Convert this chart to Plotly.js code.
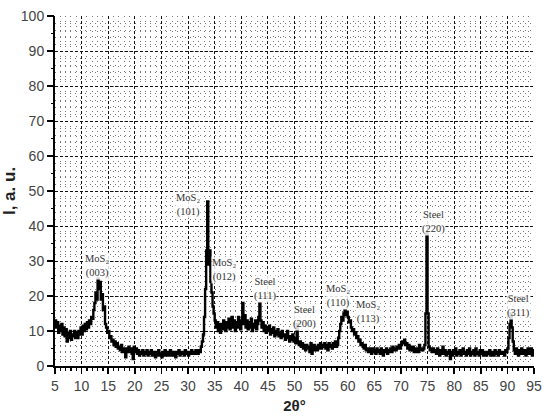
<!DOCTYPE html>
<html>
<head>
<meta charset="utf-8">
<script src="https://cdn.plot.ly/plotly-3.0.1.min.js"></script>
<style>html,body{margin:0;padding:0;background:#fff}#chart{width:550px;height:416px}</style>
</head>
<body>
<div id="chart"></div>
<script>
// XRD pattern, sampled every 0.2 degrees from 5 to 95 (one row per degree)
const startAngle = 5;
const angleStep = 0.2;
const intensity = [
  13, 11, 12.5, 9.5, 11.5,
  10, 12, 9, 11, 8.5,
  10.5, 7, 9.5, 8, 10,
  7.5, 9, 8.5, 10, 8,
  9.5, 8, 10, 9, 11,
  9, 11.5, 10, 12, 10.5,
  12.5, 11, 13, 12, 14,
  13.5, 16, 18, 21, 19,
  25, 22, 24, 19, 20.5,
  16, 17, 12, 11, 9.5,
  10, 8, 8.5, 7, 7.5,
  6, 7, 5.5, 6.5, 5,
  5.5, 4.5, 6, 4, 5,
  4.5, 2.5, 5, 4, 5.5,
  4, 5, 3.5, 2, 5.5,
  4, 5, 3.5, 4.5, 3,
  4, 3.5, 4.5, 3, 4,
  3.5, 4.5, 3, 4, 3.5,
  4.5, 3, 4, 3.5, 2.5,
  4, 3, 4.5, 3, 3.5,
  2.5, 4, 3, 4.5, 3,
  3.5, 4, 3, 4.5, 3.5,
  3, 4, 3.5, 2.5, 4,
  3.5, 4.5, 3, 4, 3.5,
  4, 3, 4.5, 3.5, 4,
  3, 4, 3.5, 4.5, 3.5,
  4, 3.5, 4.5, 4, 3.5,
  4.5, 4, 5.5, 7, 9,
  14, 22, 33, 47, 29,
  33, 24, 21, 17, 15,
  13, 11, 12.5, 10, 12,
  9.5, 12, 10.5, 13, 11,
  10, 12.5, 11, 13.5, 10.5,
  12, 14, 11, 13, 10,
  12.5, 11, 14, 12, 10.5,
  13, 18, 12, 14.5, 11,
  13, 10.5, 12.5, 11, 13.5,
  10, 12, 11, 13, 10.5,
  12, 14, 18, 13, 11,
  12.5, 10, 11.5, 9.5, 11,
  10, 11.5, 9, 10.5, 9.5,
  11, 8.5, 10, 9, 10.5,
  8.5, 9.5, 8, 10, 8.5,
  9, 7.5, 8.5, 10, 8,
  7, 8.5, 7.5, 9, 7,
  8, 6.5, 12, 7, 6,
  7, 5.5, 6.5, 5, 6,
  4.5, 6, 5, 5.5, 4,
  6.5, 3.5, 5, 6, 4.5,
  5.5, 4.5, 6, 5, 6.5,
  5, 6, 5.5, 6.5, 5,
  6, 4.5, 6.5, 5.5, 6,
  5, 6.5, 5.5, 7, 5.5,
  6, 8, 10, 12, 14,
  13, 15, 16, 14.5, 15.5,
  14, 12.5, 13, 11, 10,
  10.5, 9, 9.5, 8, 8.5,
  7, 7.5, 6, 6.5, 5.5,
  5, 6, 4.5, 5, 4,
  5, 4.5, 3.5, 5, 4,
  4.5, 3.5, 5, 4, 4.5,
  3.5, 5, 4, 3, 4.5,
  4, 5, 3.5, 4.5, 4,
  5, 4, 5.5, 4.5, 5,
  4.5, 5.5, 5, 6, 5,
  6, 7, 6.5, 7.5, 6,
  6.5, 5, 6, 4.5, 5.5,
  4.5, 5.5, 4, 5, 4,
  5, 4, 6, 4.5, 5,
  4.5, 5, 6, 15, 38,
  15, 5.5, 4.5, 5, 4,
  5, 4, 4.5, 3.5, 5,
  4, 3, 4.5, 3.5, 5.5,
  3.5, 4.5, 3, 4, 3.5,
  4.5, 2, 4, 3, 4.5,
  3.5, 5, 3, 4, 3.5,
  4.5, 3, 4, 5, 3.5,
  4, 3, 4.5, 3.5, 5,
  3, 4, 3.5, 4.5, 3,
  5, 3.5, 4, 3, 4.5,
  3.5, 4.5, 3, 4, 3.5,
  3, 4, 3.5, 4.5, 3,
  4, 3.5, 3, 4.5, 3.5,
  4, 3, 4.5, 3.5, 4,
  3.5, 4, 3, 4.5, 4,
  5, 8, 12, 15, 11,
  7, 4.5, 3.5, 5, 4,
  3, 4.5, 3.5, 5, 4,
  3.5, 4.5, 3, 4, 5,
  3.5, 4, 5, 3, 4.5,
  4
];
const twoTheta = intensity.map((_, i) => +(startAngle + i * angleStep).toFixed(2));

// Peak labels
const labelText = [
  "MoS₂<br>(003)", "MoS₂<br>(101)", "MoS₂<br>(012)",
  "Steel<br>(111)", "Steel<br>(200)", "MoS₂<br>(110)",
  "MoS₂<br>(113)", "Steel<br>(220)", "Steel<br>(311)"
];
const labelX = [12.9, 30.0, 36.8, 44.5, 51.8, 58.2, 63.8, 76.2, 92.0];
const labelY = [28.6, 46.0, 27.4, 22.0, 13.9, 20.0, 15.4, 41.2, 17.2];

const xTitle = "2θ°";
const yTitle = "I, a. u.";

const traces = [
  { // carrier for the overlay axes (y ticks at every 5)
    x: [], y: [], xaxis: "x2", yaxis: "y2", type: "scatter", mode: "lines", showlegend: false
  },
  {
    x: twoTheta, y: intensity, type: "scatter", mode: "lines",
    line: {color: "#000", width: 2.4, shape: "hv"},
    hoverinfo: "skip", showlegend: false, cliponaxis: false
  }
];

const annotations = labelText.map((t, i) => ({
  x: labelX[i], y: labelY[i], xref: "x", yref: "y", text: t, showarrow: false,
  xanchor: "center", yanchor: "middle", align: "center",
  bgcolor: "rgba(255,255,255,0.85)", borderpad: 0,
  font: {family: "Liberation Serif, Times New Roman, serif", size: 10.5, color: "#333"}
}));

const layout = {
  width: 550, height: 416,
  margin: {l: 55, r: 16, t: 16, b: 50, pad: 0},
  paper_bgcolor: "#fff", plot_bgcolor: "#fff",
  font: {family: "Liberation Sans, Arial, sans-serif", color: "#333"},
  xaxis: {
    range: [5, 95], dtick: 5, tick0: 5, autorange: false,
    showline: true, linecolor: "#000", linewidth: 2,
    ticks: "outside", ticklen: 6, tickwidth: 1.5, tickcolor: "#000",
    tickfont: {size: 14, color: "#444"},
    showgrid: true, gridcolor: "#111", gridwidth: 1, griddash: "3px,2px",
    zeroline: false,
    minor: {dtick: 1, tick0: 5, ticks: "outside", ticklen: 3, tickwidth: 1.2, tickcolor: "#000",
            showgrid: true, gridcolor: "#777", gridwidth: 1, griddash: "1px,4px"},
    title: {text: xTitle, font: {size: 15, color: "#222", weight: "bold"}, standoff: 8}
  },
  yaxis: {
    range: [0, 100], dtick: 10, autorange: false,
    showline: true, linecolor: "#000", linewidth: 2,
    ticks: "outside", ticklen: 6, tickwidth: 1.5, tickcolor: "#000",
    tickfont: {size: 14, color: "#444"},
    showgrid: true, gridcolor: "#111", gridwidth: 1, griddash: "3px,2px",
    zeroline: false,
    minor: {dtick: 2, ticks: "", ticklen: 0,
            showgrid: true, gridcolor: "#777", gridwidth: 1, griddash: "1px,4px"},
    title: {text: yTitle, font: {size: 17, color: "#222", weight: "bold"}, standoff: 10}
  },
  xaxis2: {
    overlaying: "x", range: [5, 95], autorange: false, showgrid: false, showline: false,
    showticklabels: false, ticks: "", zeroline: false, anchor: "y2"
  },
  yaxis2: {
    overlaying: "y", range: [0, 100], autorange: false, dtick: 5, side: "left", anchor: "x2",
    showgrid: false, showline: false, showticklabels: false, zeroline: false,
    ticks: "outside", ticklen: 3, tickwidth: 1.2, tickcolor: "#000"
  },
  annotations: annotations
};

Plotly.newPlot("chart", traces, layout, {staticPlot: true, displayModeBar: false});
</script>
</body>
</html>
